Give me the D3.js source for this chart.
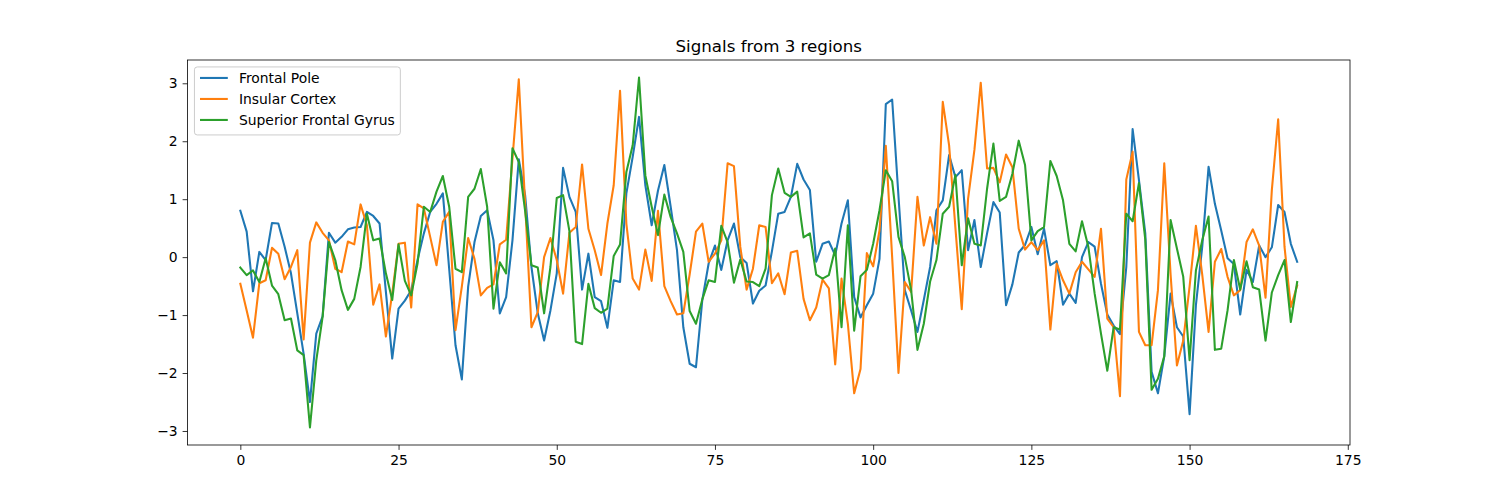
<!DOCTYPE html>
<html>
<head>
<meta charset="utf-8">
<script src="https://cdn.jsdelivr.net/npm/d3@7"></script>
<style>
  html, body { margin: 0; padding: 0; background: #ffffff; }
  svg { display: block; font-family: "DejaVu Sans", sans-serif; }
</style>
</head>
<body>
<svg id="chart" width="1500" height="500"></svg>
<script>
const title = "Signals from 3 regions";
const seriesNames = ["Frontal Pole", "Insular Cortex", "Superior Frontal Gyrus"];
const seriesColors = ["#1f77b4", "#ff7f0e", "#2ca02c"];
const xTicks = [0, 25, 50, 75, 100, 125, 150, 175];
const yTicks = [-3, -2, -1, 0, 1, 2, 3];

const frontalPole = [
  0.80, 0.44, -0.59, 0.09, -0.05, 0.59, 0.58, 0.18, -0.28, -0.97,
  -1.67, -2.50, -1.32, -1.02, 0.42, 0.25, 0.35, 0.48, 0.51, 0.52,
  0.78, 0.71, 0.58, -0.60, -1.75, -0.89, -0.75, -0.57, -0.05, 0.41,
  0.78, 0.92, 1.10, -0.20, -1.52, -2.11, -0.51, 0.26, 0.71, 0.81,
  0.29, -0.97, -0.69, 0.29, 1.69, 1.07, -0.17, -0.97, -1.44, -0.92,
  -0.28, 1.54, 1.04, 0.78, -0.56, 0.06, -0.69, -0.76, -1.22, -0.40,
  -0.43, 1.10, 1.73, 2.42, 1.24, 0.55, 1.15, 1.59, 0.87, 0.12,
  -1.21, -1.84, -1.90, -0.74, -0.11, 0.20, -0.22, 0.29, 0.58, 0.00,
  -0.10, -0.80, -0.58, -0.49, 0.10, 0.75, 0.78, 1.04, 1.61, 1.34,
  1.16, -0.08, 0.23, 0.27, 0.03, 0.58, 0.98, -0.69, -1.04, -0.83,
  -0.63, -0.03, 2.64, 2.72, 1.05, -0.57, -0.92, -1.29, -0.74, -0.17,
  0.81, 0.98, 1.76, 1.38, 1.50, 0.12, 0.64, -0.17, 0.41, 0.95,
  0.77, -0.83, -0.47, 0.08, 0.21, 0.52, 0.05, 0.49, -0.14, -0.07,
  -0.82, -0.63, -0.79, 0.00, 0.26, 0.18, -0.46, -0.99, -1.18, -1.33,
  -0.17, 2.21, 1.33, 0.41, -1.98, -2.35, -1.71, -0.63, -1.21, -1.37,
  -2.71, -0.83, 0.18, 1.56, 0.92, 0.46, -0.02, -0.12, -0.99, -0.22,
  -0.43, 0.20, 0.00, 0.17, 0.90, 0.78, 0.23, -0.08
];

const insularCortex = [
  -0.46, -0.92, -1.39, -0.45, -0.40, 0.16, 0.06, -0.38, -0.17, 0.12,
  -1.42, 0.25, 0.60, 0.42, 0.29, -0.20, -0.26, 0.27, 0.22, 0.91,
  0.55, -0.82, -0.47, -1.37, -0.63, 0.23, 0.25, -0.87, 0.91, 0.84,
  0.35, -0.14, 0.61, 0.78, -1.26, -0.51, 0.33, -0.03, -0.66, -0.53,
  -0.47, 0.22, 0.30, 1.70, 3.07, 0.92, -1.21, -0.95, 0.00, 0.33,
  -0.05, -0.63, 0.42, 0.52, 1.60, 0.49, 0.12, -0.31, 0.58, 1.24,
  2.87, 0.58, -0.37, -0.56, 0.13, -0.41, 0.80, -0.50, -0.76, -0.99,
  -0.97, -0.30, 0.44, 0.58, -0.08, 0.06, 0.29, 1.62, 1.57, 0.18,
  -0.56, -0.20, 0.55, 0.52, -0.45, -0.28, -0.64, 0.08, 0.11, -0.72,
  -1.09, -0.87, -0.39, -0.54, -1.85, -0.37, -1.15, -2.35, -1.93, 0.07,
  -0.16, 0.46, 1.92, 0.00, -2.00, -0.43, -0.60, 1.04, 0.20, 0.69,
  0.23, 2.68, 1.93, 0.50, -0.90, 1.01, 1.85, 3.01, 1.53, 1.54,
  1.29, 1.77, 1.55, 0.49, 0.13, 0.26, 0.12, 0.29, -1.25, -0.11,
  -0.40, -0.63, -0.26, -0.08, -0.21, -0.34, 0.49, -1.06, -1.21, -2.40,
  1.34, 1.82, -1.29, -1.52, -1.52, -0.57, 1.62, -0.30, -1.87, -1.44,
  -0.51, 0.54, -0.30, -1.29, -0.08, 0.14, -0.34, -0.66, -0.57, 0.26,
  0.48, 0.20, -0.70, 1.16, 2.38, 0.18, -0.86, -0.49
];

const superiorFrontalGyrus = [
  -0.18, -0.31, -0.23, -0.43, -0.02, -0.49, -0.64, -1.09, -1.06, -1.61,
  -1.69, -2.94, -1.78, -1.03, 0.26, -0.05, -0.57, -0.91, -0.72, -0.17,
  0.75, 0.29, 0.32, -0.28, -0.74, 0.22, -0.41, -0.66, -0.11, 0.87,
  0.78, 1.13, 1.40, 0.87, -0.20, -0.26, 1.04, 1.18, 1.52, 0.87,
  -0.89, -0.09, -0.28, 1.88, 1.64, 0.80, -0.14, -0.18, -0.97, -0.17,
  1.02, 1.07, 0.45, -1.46, -1.50, -0.46, -0.88, -0.96, -0.89, 0.02,
  0.22, 1.47, 1.93, 3.10, 1.41, 0.87, 0.38, 1.08, 0.69, 0.41,
  0.09, -0.93, -1.15, -0.73, -0.40, -0.43, 0.54, 0.26, -0.44, -0.04,
  -0.42, -0.43, -0.50, -0.20, 1.07, 1.53, 1.11, 1.04, 1.13, 0.34,
  0.41, -0.30, -0.37, -0.31, 0.15, -1.21, 0.55, -1.27, -0.33, -0.22,
  0.23, 0.81, 1.50, 1.31, 0.35, 0.00, -0.57, -1.60, -1.15, -0.42,
  -0.05, 0.75, 0.87, 1.42, -0.14, 0.67, 0.23, 0.20, 1.18, 1.96,
  0.97, 1.04, 1.44, 2.01, 1.59, 0.29, 0.45, 0.52, 1.66, 1.40,
  0.98, 0.23, 0.10, 0.62, 0.18, -0.63, -1.32, -1.96, -1.21, -1.25,
  0.75, 0.62, 1.28, 0.30, -2.29, -2.10, -1.71, 0.64, 0.15, -0.34,
  -1.78, -0.23, 0.29, 0.70, -1.60, -1.58, -0.92, -0.05, -0.56, -0.07,
  -0.52, -0.56, -1.44, -0.61, -0.31, -0.05, -1.12, -0.43
];

const allSeries = [frontalPole, insularCortex, superiorFrontalGyrus];

const W = 1500, H = 500;
const margin = { left: 187.5, right: 150, top: 60, bottom: 55 };
const plotW = W - margin.left - margin.right;
const plotH = H - margin.top - margin.bottom;

const svg = d3.select("#chart");

const n = frontalPole.length;
const xMin = 0, xMax = n - 1;
const xPad = (xMax - xMin) * 0.05;
const allVals = allSeries.flat();
const yMinD = d3.min(allVals), yMaxD = d3.max(allVals);
const yPad = (yMaxD - yMinD) * 0.05;

const x = d3.scaleLinear().domain([xMin - xPad, xMax + xPad]).range([margin.left, margin.left + plotW]);
const y = d3.scaleLinear().domain([yMinD - yPad, yMaxD + yPad]).range([margin.top + plotH, margin.top]);

svg.append("defs").append("clipPath").attr("id", "clip")
  .append("rect").attr("x", margin.left).attr("y", margin.top).attr("width", plotW).attr("height", plotH);

const line = d3.line().x((d, i) => x(i)).y(d => y(d));

const linesG = svg.append("g").attr("clip-path", "url(#clip)");
allSeries.forEach((s, k) => {
  linesG.append("path")
    .datum(s)
    .attr("d", line)
    .attr("fill", "none")
    .attr("stroke", seriesColors[k])
    .attr("stroke-width", 2.08)
    .attr("stroke-linejoin", "round")
    .attr("stroke-linecap", "square");
});

// Axes
const xAxis = d3.axisBottom(x).tickValues(xTicks).tickSize(4.9).tickPadding(4.9).tickFormat(d3.format(""));
const yAxis = d3.axisLeft(y).tickValues(yTicks).tickSize(4.9).tickPadding(4.9).tickFormat(d3.format(""));

const gx = svg.append("g").attr("transform", `translate(0,${margin.top + plotH})`).call(xAxis);
const gy = svg.append("g").attr("transform", `translate(${margin.left},0)`).call(yAxis);
[gx, gy].forEach(g => {
  g.select(".domain").remove();
  g.selectAll(".tick line").attr("stroke", "#000").attr("stroke-width", 0.8);
  g.selectAll(".tick text").attr("fill", "#000").style("font-size", "13.9px").style("font-family", "DejaVu Sans, sans-serif");
});

// Frame
svg.append("rect")
  .attr("x", margin.left).attr("y", margin.top)
  .attr("width", plotW).attr("height", plotH)
  .attr("fill", "none").attr("stroke", "#000").attr("stroke-width", 0.8);

// Title
svg.append("text")
  .attr("x", margin.left + plotW / 2)
  .attr("y", margin.top - 8)
  .attr("text-anchor", "middle")
  .style("font-size", "16.67px")
  .attr("fill", "#000")
  .text(title);

// Legend
const fs = 13.9;
const legX = margin.left + 0.5 * fs;
const legY = margin.top + 0.5 * fs;
const rowH = 21;
const legG = svg.append("g");
const legBox = legG.append("rect")
  .attr("x", legX).attr("y", legY)
  .attr("rx", 2.8).attr("ry", 2.8)
  .attr("fill", "#ffffff").attr("fill-opacity", 0.8)
  .attr("stroke", "#cccccc").attr("stroke-width", 1);
let maxTextW = 0;
seriesNames.forEach((name, k) => {
  const cy = legY + 11 + k * rowH;
  legG.append("line")
    .attr("x1", legX + 0.4 * fs).attr("x2", legX + 0.4 * fs + 2 * fs)
    .attr("y1", cy).attr("y2", cy)
    .attr("stroke", seriesColors[k]).attr("stroke-width", 2.08);
  const t = legG.append("text")
    .attr("x", legX + 0.4 * fs + 2 * fs + 0.8 * fs)
    .attr("y", cy)
    .attr("dy", "0.35em")
    .style("font-size", fs + "px")
    .attr("fill", "#000")
    .text(name);
  maxTextW = Math.max(maxTextW, t.node().getComputedTextLength());
});
legBox
  .attr("width", 0.4 * fs + 2 * fs + 0.8 * fs + maxTextW + 0.4 * fs)
  .attr("height", 68);
</script>
</body>
</html>
